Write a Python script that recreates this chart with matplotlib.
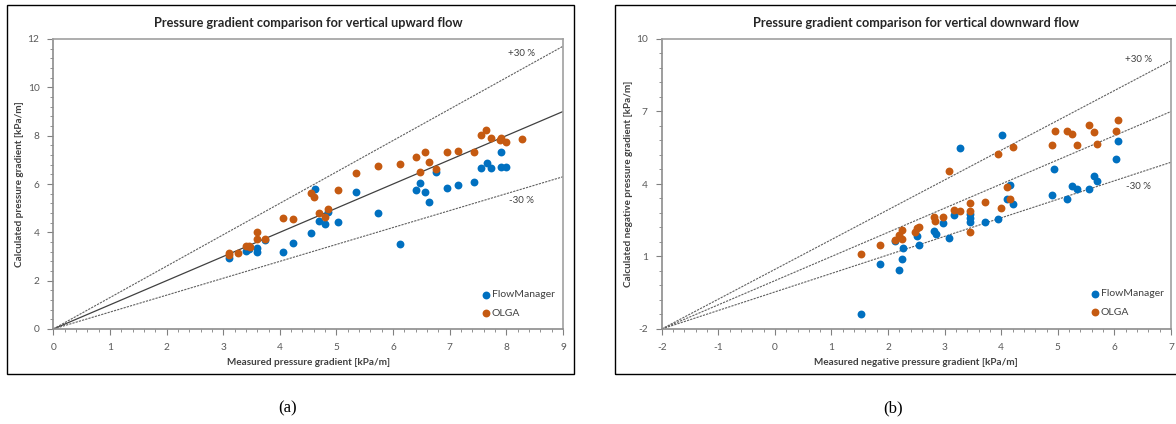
import matplotlib
matplotlib.use("Agg")
import matplotlib.pyplot as plt
from matplotlib.ticker import FixedLocator
from matplotlib.patches import Rectangle
import numpy as np

plt.rcParams["font.family"] = ["Lato", "DejaVu Sans"]

# ---- vertical upward flow ----
up_fm_x = [3.10, 3.40, 3.45, 3.59, 3.59, 3.74, 4.05, 4.24, 4.55, 4.62, 4.70, 4.79, 4.85,
           5.02, 5.34, 5.74, 6.13, 6.40, 6.48, 6.57, 6.63, 6.76, 6.96, 7.15, 7.43, 7.55,
           7.65, 7.73, 7.91, 7.91, 8.00]
up_fm_y = [2.95, 3.22, 3.30, 3.34, 3.20, 3.68, 3.17, 3.54, 3.99, 5.78, 4.48, 4.34, 4.85,
           4.44, 5.67, 4.79, 3.53, 5.76, 6.05, 5.68, 5.24, 6.50, 5.85, 5.95, 6.07, 6.66,
           6.88, 6.66, 7.34, 6.69, 6.69]
up_olga_x = [3.10, 3.10, 3.26, 3.40, 3.45, 3.47, 3.59, 3.59, 3.73, 4.05, 4.24, 4.55, 4.60,
             4.70, 4.79, 4.85, 5.02, 5.34, 5.74, 6.13, 6.40, 6.48, 6.57, 6.63, 6.76, 6.96,
             7.15, 7.43, 7.55, 7.64, 7.73, 7.89, 7.91, 7.99, 8.28]
up_olga_y = [3.13, 3.05, 3.13, 3.43, 3.43, 3.38, 4.03, 3.72, 3.74, 4.58, 4.54, 5.61, 5.47,
             4.79, 4.65, 4.96, 5.75, 6.45, 6.74, 6.84, 7.12, 6.50, 7.34, 6.90, 6.61, 7.34,
             7.36, 7.34, 8.01, 8.23, 7.90, 7.82, 7.90, 7.72, 7.88]

# ---- vertical downward flow ----
dn_fm_x = [1.52, 1.86, 2.20, 2.25, 2.26, 2.13, 2.51, 2.55, 2.81, 2.85, 2.97, 3.08, 3.16,
           3.28, 3.44, 3.44, 3.44, 3.71, 3.95, 4.01, 4.10, 4.16, 4.20, 4.90, 4.94, 5.17,
           5.25, 5.34, 5.55, 5.64, 5.69, 6.03, 6.06]
dn_fm_y = [-1.36, 0.69, 0.44, 0.90, 1.37, 1.66, 1.84, 1.48, 2.07, 1.93, 2.38, 1.78, 2.73,
           5.49, 2.75, 2.58, 2.44, 2.43, 2.54, 6.03, 3.38, 3.97, 3.16, 3.56, 4.61, 3.39,
           3.92, 3.79, 3.79, 4.35, 4.11, 5.05, 5.78]
dn_olga_x = [1.52, 1.86, 2.13, 2.20, 2.25, 2.25, 2.48, 2.52, 2.55, 2.81, 2.83, 2.97, 3.08,
             3.16, 3.28, 3.44, 3.44, 3.44, 3.71, 3.99, 3.95, 4.10, 4.16, 4.20, 4.90, 4.95,
             5.16, 5.25, 5.34, 5.55, 5.64, 5.69, 6.03, 6.06]
dn_olga_y = [1.12, 1.48, 1.70, 1.89, 2.10, 1.71, 2.01, 2.17, 2.24, 2.64, 2.48, 2.65, 4.55,
             2.91, 2.90, 3.23, 2.90, 2.01, 3.24, 3.00, 5.23, 3.86, 3.39, 5.52, 5.63, 6.19,
             6.18, 6.06, 5.63, 6.45, 6.16, 5.64, 6.19, 6.64]

series_names = ["FlowManager", "OLGA"]
band = 0.30

BLUE = "#0070c0"
ORANGE = "#c55a11"
TICK_C = "#595959"
TEXT_C = "#404040"
FRAME_C = "#a0a0a0"

W, H = 1176, 424
fig = plt.figure(figsize=(W / 100, H / 100), dpi=100)


def fx(px):
    return px / W


def fy(py):
    return 1 - py / H


# outer chart borders
for x0, x1 in [(7, 574), (615, 1180)]:
    fig.add_artist(Rectangle((fx(x0), fy(374)), fx(x1 - x0), (374 - 5) / H,
                             transform=fig.transFigure, fill=False,
                             edgecolor="black", linewidth=1.0, clip_on=False))

ax1 = fig.add_axes([fx(53.3), fy(329), fx(563 - 53.3), (329 - 39) / H])
ax2 = fig.add_axes([fx(661.7), fy(329), fx(1171 - 661.7), (329 - 39) / H])


def style(ax, xlim, ylim, xmaj, xmin, ymaj, ymin):
    ax.set_xlim(*xlim)
    ax.set_ylim(*ylim)
    ax.xaxis.set_major_locator(FixedLocator(np.arange(xlim[0], xlim[1] + 1e-9, xmaj)))
    ax.xaxis.set_minor_locator(FixedLocator(np.arange(xlim[0], xlim[1] + 1e-9, xmin)))
    ax.yaxis.set_major_locator(FixedLocator(np.arange(ylim[0], ylim[1] + 1e-9, ymaj)))
    ax.yaxis.set_minor_locator(FixedLocator(np.arange(ylim[0], ylim[1] + 1e-9, ymin)))
    ax.yaxis.set_major_formatter(lambda v, p: f"{v:g}")
    ax.xaxis.set_major_formatter(lambda v, p: f"{v:g}")
    for s in ax.spines.values():
        s.set_color(FRAME_C)
        s.set_linewidth(1.2)
    ax.spines["left"].set_color("#8c8c8c")
    ax.spines["bottom"].set_color("#8c8c8c")
    ax.tick_params(which="major", direction="out", length=4, width=0.8,
                   color="#808080", labelsize=7.3, labelcolor=TICK_C, pad=6)
    ax.tick_params(which="minor", direction="out", length=2.5, width=0.6,
                   color="#808080")
    ax.tick_params(axis="x", which="both", top=False)
    ax.tick_params(axis="y", which="both", right=False)


style(ax1, (0, 9), (0, 12), 1, 0.2, 2, 0.4)
style(ax2, (-2, 7), (-2, 10), 1, 0.2, 3, 0.6)

# reference lines: upward flow
xs = np.array([0, 9])
ax1.plot(xs, xs, color="#404040", lw=0.9, zorder=1)
ax1.plot(xs, (1 + band) * xs, color="#606060", lw=0.8, ls=(0, (2, 1)), zorder=1)
ax1.plot(xs, (1 - band) * xs, color="#606060", lw=0.8, ls=(0, (2, 1)), zorder=1)

# reference lines: downward flow, fanning out from the lower-left corner
x0, x1 = -2, 7
for k in (1 + band, 1.0, 1 - band):
    ax2.plot([x0, x1], [x0, k * x1], color="#606060", lw=0.8, ls=(0, (2, 1)), zorder=1)

ms = 32
ax1.scatter(up_fm_x, up_fm_y, s=ms, color=BLUE, label=series_names[0], zorder=3, linewidths=0)
ax1.scatter(up_olga_x, up_olga_y, s=ms, color=ORANGE, label=series_names[1], zorder=3, linewidths=0)
ax2.scatter(dn_fm_x, dn_fm_y, s=ms, color=BLUE, label=series_names[0], zorder=3, linewidths=0)
ax2.scatter(dn_olga_x, dn_olga_y, s=ms, color=ORANGE, label=series_names[1], zorder=3, linewidths=0)

ax1.text(8.26, 11.38, "+30 %", fontsize=7, color=TEXT_C, ha="center", va="center")
ax1.text(8.26, 5.30, "-30 %", fontsize=7, color=TEXT_C, ha="center", va="center")
ax2.text(6.42, 9.17, "+30 %", fontsize=7, color=TEXT_C, ha="center", va="center")
ax2.text(6.42, 3.88, "-30 %", fontsize=7, color=TEXT_C, ha="center", va="center")

ax1.set_title("Pressure gradient comparison for vertical upward flow",
              fontsize=9.2, fontweight="bold", color="#262626", pad=8.5)
ax2.set_title("Pressure gradient comparison for vertical downward flow",
              fontsize=9.2, fontweight="bold", color="#262626", pad=8.5)

ax1.set_xlabel("Measured pressure gradient [kPa/m]", fontsize=7.2, fontweight="bold", color=TEXT_C)
ax1.set_ylabel("Calculated pressure gradient [kPa/m]", fontsize=7.2, fontweight="bold", color=TEXT_C)
ax2.set_xlabel("Measured negative pressure gradient [kPa/m]", fontsize=7.2, fontweight="bold", color=TEXT_C)
ax2.set_ylabel("Calculated negative pressure gradient [kPa/m]", fontsize=7.2, fontweight="bold", color=TEXT_C)
for ax in (ax1, ax2):
    ax.xaxis.set_label_coords(0.5, -0.10)
    ax.yaxis.set_label_coords(-0.057, 0.5)

for ax, (lx, ly) in [(ax1, (481, 290)), (ax2, (1090, 289))]:
    ax.legend(loc="upper left", bbox_to_anchor=(fx(lx), fy(ly)),
              bbox_transform=fig.transFigure, frameon=False, fontsize=7.5,
              handletextpad=0.05, handlelength=1.0, labelspacing=0.9,
              borderpad=0, borderaxespad=0, labelcolor=TEXT_C, markerscale=1.0)

fig.text(fx(288), fy(408), "(a)", fontsize=12, family="Liberation Serif",
         ha="center", va="center")
fig.text(fx(893), fy(408), "(b)", fontsize=12, family="Liberation Serif",
         ha="center", va="center")

fig.savefig("out.png", dpi=100)
